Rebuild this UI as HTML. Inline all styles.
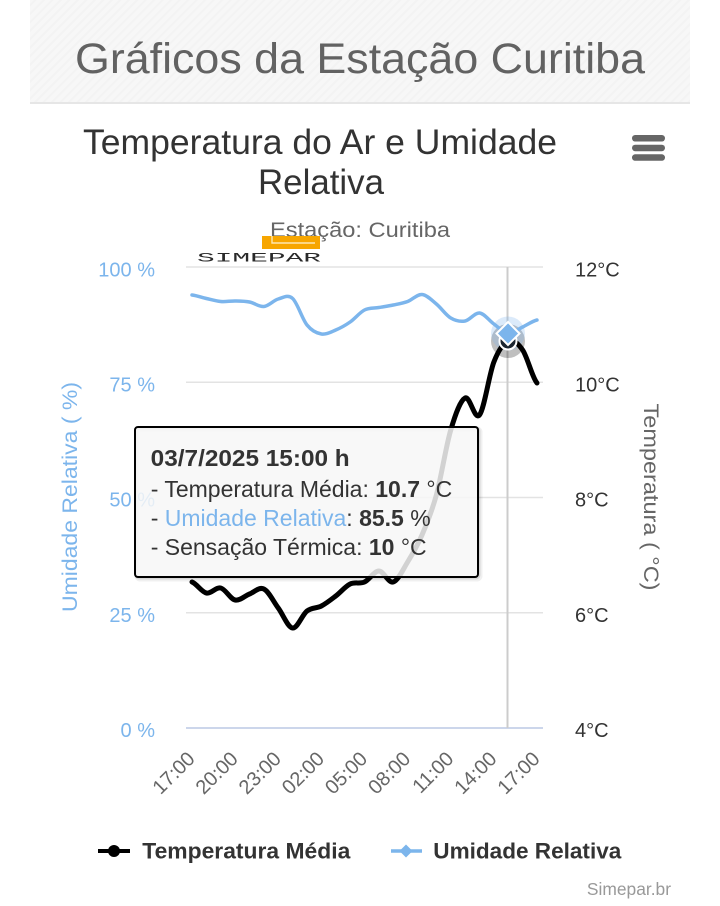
<!DOCTYPE html>
<html>
<head>
<meta charset="utf-8">
<style>
html,body{margin:0;padding:0;background:#fff;}
svg{display:block;font-family:"Liberation Sans",Arial,sans-serif;}
</style>
</head>
<body>
<svg width="720" height="906" viewBox="0 0 720 906" xmlns="http://www.w3.org/2000/svg">
<defs>
<pattern id="hatch" width="6" height="6" patternUnits="userSpaceOnUse" patternTransform="rotate(45)">
<rect width="6" height="6" fill="#f7f7f7"/>
<rect width="2" height="6" fill="#f3f3f3"/>
</pattern>
</defs>
<rect x="0" y="0" width="720" height="906" fill="#fff"/>
<!-- header -->
<rect x="30" y="0" width="660" height="102" fill="url(#hatch)"/>
<rect x="30" y="102" width="660" height="2" fill="#e6e6e6"/>
<text x="360" y="73" text-anchor="middle" font-size="43" fill="#626262" textLength="570" lengthAdjust="spacingAndGlyphs">Gráficos da Estação Curitiba</text>

<!-- chart title -->
<text x="320" y="154" text-anchor="middle" font-size="35" fill="#333" textLength="474" lengthAdjust="spacingAndGlyphs">Temperatura do Ar e Umidade</text>
<text x="321" y="194" text-anchor="middle" font-size="35" fill="#333" textLength="126" lengthAdjust="spacingAndGlyphs">Relativa</text>
<text x="360" y="237" text-anchor="middle" font-size="21" fill="#666" textLength="180" lengthAdjust="spacingAndGlyphs">Estação: Curitiba</text>

<!-- menu icon -->
<rect x="632" y="135" width="33" height="6.5" rx="3.2" fill="#666"/>
<rect x="632" y="144.7" width="33" height="6.5" rx="3.2" fill="#666"/>
<rect x="632" y="154.3" width="33" height="6.5" rx="3.2" fill="#666"/>

<!-- logo -->
<rect x="262" y="236" width="58" height="13" fill="#f7a600"/>
<path d="M272,236 V243 H315" fill="none" stroke="#fde7b0" stroke-width="1.4"/>
<text x="197" y="261.5" font-size="13" fill="#2a2a2a" font-family="Liberation Mono, monospace" textLength="124" lengthAdjust="spacingAndGlyphs">SIMEPAR</text>

<!-- grid -->
<g stroke="#e3e3e3" stroke-width="1.6">
<line x1="186" y1="267" x2="543" y2="267"/>
<line x1="186" y1="382.25" x2="543" y2="382.25"/>
<line x1="186" y1="497.5" x2="543" y2="497.5"/>
<line x1="186" y1="612.75" x2="543" y2="612.75"/>
</g>
<line x1="186" y1="728" x2="543" y2="728" stroke="#ccd6eb" stroke-width="2"/>

<!-- crosshair -->
<line x1="507.5" y1="267" x2="507.5" y2="728" stroke="#cccccc" stroke-width="2"/>

<!-- left axis labels -->
<g font-size="20" fill="#7cb5ec" text-anchor="end">
<text x="155" y="276.5">100 %</text>
<text x="155" y="391.5">75 %</text>
<text x="155" y="506.5">50 %</text>
<text x="155" y="622">25 %</text>
<text x="155" y="737">0 %</text>
</g>
<text x="77" y="497" transform="rotate(-90 77 497)" text-anchor="middle" font-size="21" fill="#7cb5ec" textLength="230" lengthAdjust="spacingAndGlyphs">Umidade Relativa ( %)</text>

<!-- right axis labels -->
<g font-size="20" fill="#333">
<text x="575" y="276.5">12°C</text>
<text x="575" y="391.5">10°C</text>
<text x="575" y="506.5">8°C</text>
<text x="575" y="622">6°C</text>
<text x="575" y="737">4°C</text>
</g>
<text x="644" y="497" transform="rotate(90 644 497)" text-anchor="middle" font-size="21" fill="#666" textLength="187" lengthAdjust="spacingAndGlyphs">Temperatura ( °C)</text>

<!-- x labels -->
<g font-size="20" fill="#666" text-anchor="end">
<text x="196" y="760" transform="rotate(-45 196 760)">17:00</text>
<text x="239.1" y="760" transform="rotate(-45 239.1 760)">20:00</text>
<text x="282.3" y="760" transform="rotate(-45 282.3 760)">23:00</text>
<text x="325.4" y="760" transform="rotate(-45 325.4 760)">02:00</text>
<text x="368.5" y="760" transform="rotate(-45 368.5 760)">05:00</text>
<text x="411.6" y="760" transform="rotate(-45 411.6 760)">08:00</text>
<text x="454.8" y="760" transform="rotate(-45 454.8 760)">11:00</text>
<text x="497.9" y="760" transform="rotate(-45 497.9 760)">14:00</text>
<text x="541" y="760" transform="rotate(-45 541 760)">17:00</text>
</g>

<!-- halos -->
<circle cx="508" cy="341" r="17" fill="rgba(0,0,0,0.25)"/>
<circle cx="508" cy="333.5" r="17" fill="rgba(124,181,236,0.28)"/>

<!-- temperature series -->
<path fill="none" stroke="#000" stroke-width="5" stroke-linejoin="round" stroke-linecap="round" d="M192,582 C196.79,583.83 201.59,592 206.38,593 C211.17,594 215.96,586.83 220.75,588 C225.54,589.17 230.34,599 235.13,600 C239.92,601 244.71,595.83 249.5,594 C254.29,592.17 259.09,586.67 263.88,589 C268.67,591.33 273.46,601.5 278.25,608 C283.04,614.5 287.84,627.5 292.63,628 C297.42,628.5 302.21,614.67 307,611 C311.79,607.33 316.59,608.5 321.38,606 C326.17,603.5 330.96,599.67 335.75,596 C340.54,592.33 345.34,586.33 350.13,584 C354.92,581.67 359.71,584.17 364.5,582 C369.29,579.83 374.09,571 378.88,571 C383.67,571 388.46,583.5 393.25,582 C398.04,580.5 402.84,569.83 407.63,562 C412.42,554.17 417.21,546.17 422,535 C426.79,523.83 431.59,512.5 436.38,495 C441.17,477.5 445.96,446.17 450.75,430 C455.54,413.83 460.34,400.5 465.13,398 C469.92,395.5 474.71,421 479.5,415 C484.29,409 489.09,374.33 493.88,362 C498.67,349.67 503.46,343 508.25,341 C513.04,339 517.84,343 522.63,350 C527.42,357 532.21,377.5 537,383"/>

<!-- humidity series -->
<path fill="none" stroke="#7cb5ec" stroke-width="3.5" stroke-linejoin="round" stroke-linecap="round" d="M192,295 C196.79,295.58 201.59,297.42 206.38,298.5 C211.17,299.58 215.96,301.08 220.75,301.5 C225.54,301.92 230.34,300.92 235.13,301 C239.92,301.08 244.71,301.08 249.5,302 C254.29,302.92 259.09,307 263.88,306.5 C268.67,306 273.46,300.33 278.25,299 C283.04,297.67 287.84,294.17 292.63,298.5 C297.42,302.83 302.21,319.08 307,325 C311.79,330.92 316.59,333.17 321.38,334 C326.17,334.83 330.96,332 335.75,330 C340.54,328 345.34,325.33 350.13,322 C354.92,318.67 359.71,312.42 364.5,310 C369.29,307.58 374.09,308.33 378.88,307.5 C383.67,306.67 388.46,306 393.25,305 C398.04,304 402.84,303.25 407.63,301.5 C412.42,299.75 417.21,294.08 422,294.5 C426.79,294.92 431.59,300.08 436.38,304 C441.17,307.92 445.96,315.17 450.75,318 C455.54,320.83 460.34,321.83 465.13,321 C469.92,320.17 474.71,312.5 479.5,313 C484.29,313.5 489.09,320.58 493.88,324 C498.67,327.42 503.46,333 508.25,333.5 C513.04,334 517.84,329.25 522.63,327 C527.42,324.75 532.21,321.17 537,320"/>

<!-- markers -->
<circle cx="508" cy="341" r="8.5" fill="#1b2530" stroke="#fff" stroke-width="2"/>
<path d="M508,322 L519.5,333.5 L508,345 L496.5,333.5 Z" fill="#7cb5ec" stroke="#fff" stroke-width="2"/>

<!-- tooltip -->
<rect x="137" y="429" width="343" height="150" rx="3" fill="none" stroke="rgba(0,0,0,0.06)" stroke-width="5"/>
<rect x="136" y="428" width="343" height="150" rx="3" fill="none" stroke="rgba(0,0,0,0.1)" stroke-width="3"/>
<rect x="135" y="427" width="343" height="150" rx="3" fill="rgba(247,247,247,0.85)" stroke="#000" stroke-width="2"/>
<g font-size="23" fill="#333">
<text x="150.7" y="466" font-weight="bold" textLength="199" lengthAdjust="spacingAndGlyphs">03/7/2025 15:00 h</text>
<text x="150.7" y="497">- Temperatura Média: <tspan font-weight="bold">10.7</tspan> °C</text>
<text x="150.7" y="526">- <tspan fill="#7cb5ec">Umidade Relativa</tspan>: <tspan font-weight="bold">85.5</tspan> %</text>
<text x="150.7" y="555">- Sensação Térmica: <tspan font-weight="bold">10</tspan> °C</text>
</g>

<!-- legend -->
<line x1="98" y1="851" x2="130" y2="851" stroke="#000" stroke-width="4"/>
<circle cx="114" cy="851" r="6" fill="#000"/>
<text x="142.3" y="858.5" font-size="22.5" font-weight="bold" fill="#333" textLength="208" lengthAdjust="spacingAndGlyphs">Temperatura Média</text>
<line x1="391" y1="851" x2="422" y2="851" stroke="#7cb5ec" stroke-width="3.5"/>
<path d="M406,844.5 L412.5,851 L406,857.5 L399.5,851 Z" fill="#7cb5ec"/>
<text x="433.3" y="858.5" font-size="22.5" font-weight="bold" fill="#333" textLength="188" lengthAdjust="spacingAndGlyphs">Umidade Relativa</text>

<!-- credits -->
<text x="671" y="895" text-anchor="end" font-size="17.4" fill="#999">Simepar.br</text>
</svg>
</body>
</html>
